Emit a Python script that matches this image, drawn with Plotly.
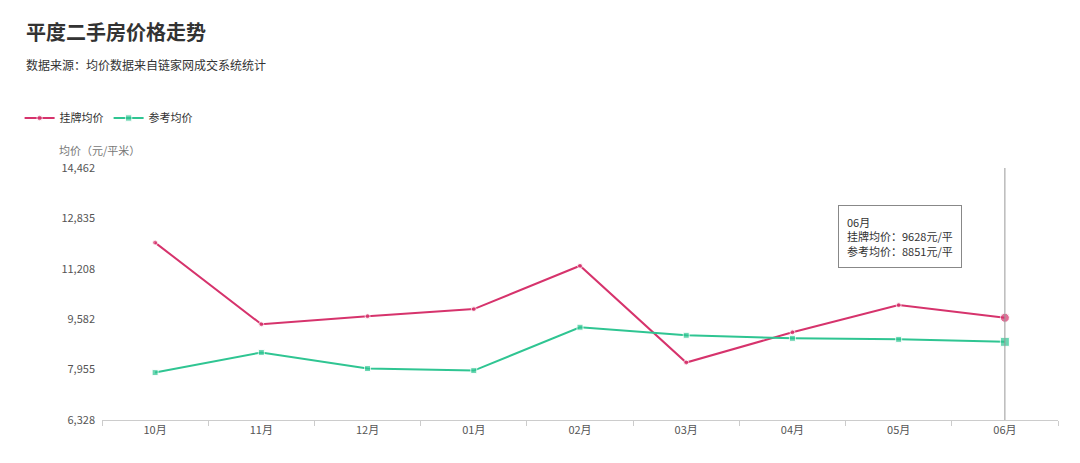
import plotly.graph_objects as go

months = ["10月", "11月", "12月", "01月", "02月", "03月", "04月", "05月", "06月"]
listing = [12054, 9419, 9680, 9907, 11306, 8183, 9159, 10037, 9628]
reference = [7858, 8509, 7988, 7923, 9322, 9062, 8964, 8931, 8851]
yticks = [6328, 7955, 9582, 11208, 12835, 14462]

red = "#d6336c"
green = "#2fc592"
font = "Noto Sans CJK SC"

OFF = 8
L, R, T, B = 95, 1058, 168, 420
def px(x): return (x - L) / (R - L)
def py(y): return (B - y) / (B - T)

fig = go.Figure()
fig.add_trace(go.Scatter(x=months, y=listing, name="挂牌均价", mode="lines+markers",
                         line=dict(color=red, width=2), marker=dict(size=[5]*8 + [9], color=red, symbol="circle")))
fig.add_trace(go.Scatter(x=months, y=reference, name="参考均价", mode="lines+markers",
                         line=dict(color=green, width=2), marker=dict(size=[6]*8 + [9], color=green, symbol="square")))

fig.add_shape(type="line", xref="x", yref="paper", x0="06月", x1="06月", y0=0, y1=1,
              line=dict(color="#999", width=1))

fig.add_annotation(xref="paper", yref="paper", x=px(836), y=py(205), xanchor="left", yanchor="top",
                   align="left", showarrow=False,
                   text="06月<br>挂牌均价：9628元/平<br>参考均价：8851元/平",
                   font=dict(family=font, size=11, color="#333"),
                   bordercolor="#888", borderwidth=1, borderpad=8, bgcolor="white")

fig.add_annotation(xref="paper", yref="paper", x=px(16), y=py(32), xanchor="left", yanchor="middle",
                   showarrow=False, text="<b>平度二手房价格走势</b>", font=dict(family=font, size=20, color="#333"))
fig.add_annotation(xref="paper", yref="paper", x=px(16), y=py(65), xanchor="left", yanchor="middle",
                   showarrow=False, text="数据来源：均价数据来自链家网成交系统统计", font=dict(family=font, size=12, color="#333"))
fig.add_annotation(xref="paper", yref="paper", x=px(50), y=py(150), xanchor="left", yanchor="middle",
                   showarrow=False, text="均价（元/平米）", font=dict(family=font, size=11, color="#777"))

fig.update_layout(
    width=1080 - 2*OFF, height=463 - 2*OFF,
    margin=dict(l=L-OFF, r=1080-OFF-R, t=T-OFF, b=463-OFF-B),
    plot_bgcolor="white", paper_bgcolor="white",
    font=dict(family=font, size=11, color="#555"),
    legend=dict(orientation="h", x=px(12), y=py(118), xanchor="left", yanchor="middle",
                font=dict(family=font, size=11, color="#333"), itemwidth=30),
    xaxis=dict(range=[-0.5, 8.5], showgrid=False, showline=True, linecolor="#ccc",
               ticks="outside", tickcolor="#ccc", ticklen=5, tickson="boundaries"),
    yaxis=dict(range=[6328, 14462], tickvals=yticks, tickformat=",", showgrid=False,
               showline=False, zeroline=False, ticks="", ticklabelstandoff=6),
)
fig.write_html("out.html")
